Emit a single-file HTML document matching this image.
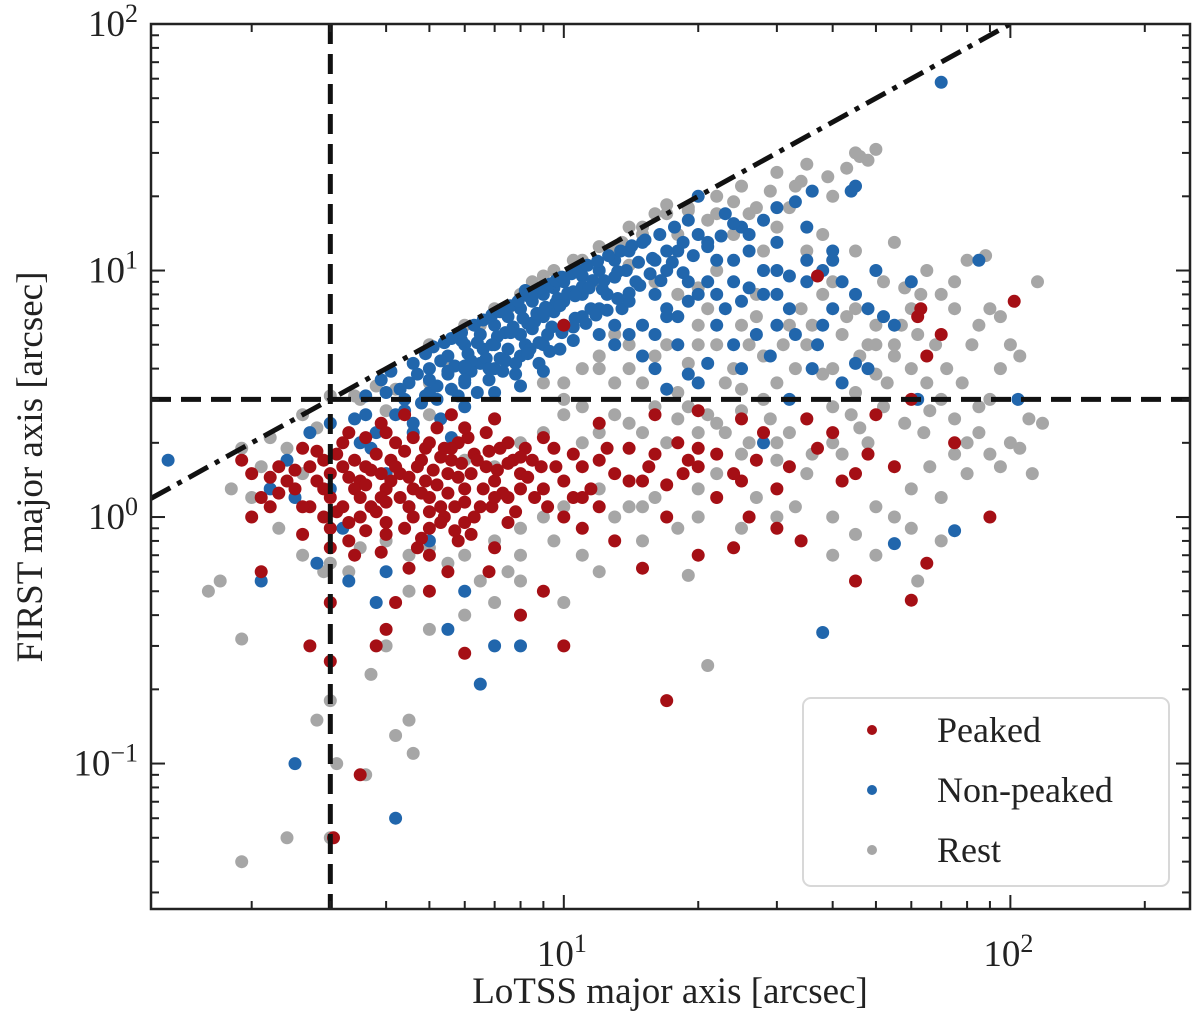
<!DOCTYPE html>
<html><head><meta charset="utf-8"><style>
html,body{margin:0;padding:0;background:#fff;}
svg{display:block;font-family:"Liberation Serif",serif;}
</style></head><body>
<svg id="chart" width="1200" height="1018" viewBox="0 0 1200 1018" xmlns="http://www.w3.org/2000/svg">
<g id="points"></g>
<g id="lines"></g>
<g id="axes"></g>
<g id="legend"></g>
</svg>
<script>
const restPts = [[5,5],[6,6],[7,7],[8,8],[9,9.5],[11,11],[13,12],[15,15],[17,17],[19,18],[22,20],[25,22],[30,25],[35,27],[45,30],[50,31],[48,28],[40,20],[33,22],[30,15],[35,12],[40,9],[45,7],[50,6],[55,5],[60,4],[65,3.5],[70,3],[75,2.5],[80,2],[90,3],[100,2],[110,2.5],[115,9],[100,5],[95,4],[85,6],[75,7],[70,8],[60,7],[55,4.5],[50,3.8],[45,3.2],[40,2.8],[35,2.5],[30,2],[28,3],[25,2.7],[22,2.4],[20,2.2],[18,2.5],[16,2.8],[14,2.4],[12,2.2],[25,6],[20,5],[18,8],[15,6],[22,10],[28,12],[35,5],[42,5.5],[52,9],[58,8.5],[65,10],[75,9],[80,11],[88,11.5],[105,4.5],[112,1.5],[105,1.9],[90,1.8],[80,1.5],[70,1.2],[60,1.3],[50,1.1],[40,1],[35,1.5],[30,1.7],[25,1.8],[20,1.3],[16,1.2],[14,1.1],[12,1.3],[11,2],[9,2.2],[8,2],[7,2.5],[6,2.3],[5,2.6],[4,2.7],[3.5,3],[3,3.1],[2.6,2.6],[2.2,2.1],[1.9,1.9],[2,1.2],[2.3,0.9],[2.6,0.7],[2.9,0.6],[1.6,0.5],[1.7,0.55],[1.9,0.32],[1.9,0.04],[2.4,0.05],[3,0.05],[3.1,0.1],[3.6,0.09],[3,0.18],[2.8,0.15],[4.2,0.13],[4.5,0.15],[4.6,0.11],[3.7,0.23],[4,0.3],[5,0.35],[6,0.4],[7,0.45],[8,0.55],[10,0.45],[12,0.6],[15,0.8],[19,0.58],[21,0.25],[25,0.9],[30,1],[40,0.7],[50,0.7],[55,1],[60,0.9],[70,0.8],[62,0.55],[8,0.9],[9,1],[10,1.1],[7,1.6],[6,1.7],[3.5,0.75],[4.5,0.7],[5.5,0.65],[12,4],[14,5],[16,9],[13,3.5],[10,3],[9,3.5],[20,8.5],[24,14],[26,17],[32,18],[38,14],[27,8],[32,6],[45,12],[55,13],[62,5.5],[48,5],[38,3.8],[42,1.8],[46,2.3],[64,2.2],[66,1.6],[85,2.8],[95,6.5],[118,2.4],[16,17],[18,14],[21,16],[12,9],[14,10.5],
[10,3.5],[11,4],[12,4.5],[13,5.5],[14,4],[15,3.5],[16,4.5],[17,5],[18,3.2],[19,4.2],[20,6],[21,7],[22,5],[23,3.5],[24,4],[25,3.3],[26,5],[27,6.5],[28,4.5],[30,3.5],[31,5],[33,4],[34,7],[36,6],[38,8],[40,4],[43,6.5],[46,4.5],[50,5],[53,3.5],[57,6],[63,8],[68,5],[72,4],[78,3.5],[82,5],[90,7],[10,2.6],[11,2.8],[13,2.6],[15,2.2],[17,2],[19,2.8],[21,2.6],[23,2.2],[26,2],[29,2.5],[32,2.2],[36,1.8],[40,2],[44,2.6],[48,2],[52,2.8],[58,2.4],[66,2.7],[75,1.8],[85,2.2],[95,1.6],[4,0.8],[5,0.75],[6,0.7],[7,0.8],[8,0.7],[3,0.65],[3.3,0.6],[4.5,0.5],[6.5,0.55],[7.5,0.6],[9.5,0.8],[11,0.7],[13,1],[15,1.1],[18,0.9],[20,1],[22,1.5],[27,1.2],[33,1.1],[45,0.85],[3.4,3.1],[4.2,3.3],[5,3.5],[3.8,3.4],[2.8,2.3],[2.4,1.9],[2.1,1.6],[1.8,1.3],[2.6,1.5],[5.5,4.2],[6.5,6],[7.5,7],[8.5,9],[9.5,10],[10.5,11],[12,12.5],[13.5,13],[15,14],[14,15],[17,18.5],[19,17.5],[22,17],[24,19],[27,18],[29,21],[34,23],[39,24],[43,26],[46,29]];
const nonPeakedPts = [[4,3.2],[4.5,3.5],[5,4],[5.5,4.5],[6,5],[6.5,5.5],[7,6],[7.5,6.5],[8,7],[8.5,7.5],[9,8],[9.5,8.5],[10,9],[11,9.5],[12,10],[13,11],[14,12],[15,13],[5,3.2],[6,3.5],[7,4],[8,4.5],[9,5],[10,6],[11,6.5],[12,7],[6,4],[7,5],[8,5.5],[9,6.5],[10,7.5],[11,8],[5.5,3.8],[6.5,4.2],[7.5,4.8],[8.5,5.8],[9.5,6.8],[4.2,2.6],[4.8,2.9],[5.2,3.4],[5.8,3.1],[6.2,3.9],[6.8,3.6],[7.2,4.4],[7.8,3.8],[8.2,5],[8.8,4.2],[9.2,5.5],[9.8,4.8],[10.5,5.2],[11.5,7],[12.5,8],[13.5,7],[14.5,9],[15,6],[16,8],[17,10],[18,12],[20,14],[22,11],[24,9],[26,12],[28,8],[30,10],[32,7],[35,9],[38,6],[40,11],[45,22],[44,21],[70,58],[1.3,1.7],[2.5,0.1],[4.2,0.06],[38,0.34],[20,20],[25,15],[30,13],[23,17],[35,15],[40,12],[50,10],[60,9],[85,11],[48,4],[55,6],[62,3],[104,3],[75,0.88],[55,0.78],[28,2],[32,3],[45,4.2],[37,5],[25,4],[20,3.5],[18,5],[16,4],[22,6],[27,5.5],[30,6],[40,7],[3.5,2],[4,1.5],[3,1.3],[2.5,1.2],[2.2,1.3],[3.2,0.9],[4.5,1.1],[5,0.8],[6,0.5],[7,0.3],[4,0.6],[8,0.3],[5.5,0.35],[3.3,0.55],[2.1,0.55],[3.8,0.45],[6.5,0.21],[2.8,0.65],[3.6,2.6],[4.4,3],[5.3,2.5],[6,2.8],[7,3.2],[8,3.4],[9,3.9],[6.6,4.8],[7.4,5.6],[8.6,6.2],[9.6,7.4],[10.5,8.2],[5.9,5.2],[7.2,6.8],[8.2,8.3],[12,5.5],[13,6],[14,7.5],[16,11],[19,9],[21,13],[24,11],[17,6.5],[3.8,2.2],[4.6,2.2],[5.6,2.1],
[3.6,3.1],[3.9,3.6],[4.1,3.9],[4.3,3.3],[4.6,4.2],[4.7,3.8],[4.9,4.6],[5.1,4.9],[5.3,4.3],[5.4,5.1],[5.6,5.3],[5.7,4.1],[5.9,5.6],[6.1,4.6],[6.3,6],[6.4,5.1],[6.6,6.3],[6.7,4.4],[6.9,6.6],[7.1,5.4],[7.3,7],[7.4,4.3],[7.6,7.2],[7.7,5.9],[7.9,7.5],[8.1,6.4],[8.3,7.9],[8.4,4.8],[8.6,8.1],[8.7,6.7],[8.9,8.5],[9.1,7.1],[9.3,8.8],[9.4,5.9],[9.6,9.1],[9.7,7.7],[9.9,9.4],[10.2,8.1],[10.4,9.7],[10.6,6.4],[10.8,10],[11,8.6],[11.3,10.5],[11.6,9.1],[11.9,10.9],[12.2,8.4],[12.6,11.5],[13,9.4],[13.4,12],[13.8,10],[14.2,12.6],[14.7,10.8],[15.2,13.3],[15.8,11.2],[16.4,14],[17,12],[17.7,15],[18.5,13],[19,16],[4.4,2.7],[4.9,3.1],[5.2,3.0],[5.6,3.3],[6.0,3.6],[6.4,3.2],[6.8,4.0],[7.3,3.9],[7.8,4.2],[8.3,4.6],[8.8,5.1],[9.3,4.7],[9.9,5.6],[10.5,5.9],[11.2,6.1],[11.8,6.6],[12.5,6.9],[13.2,7.7],[14,8.1],[14.8,8.7],[15.6,9.7],[16.5,9.1],[17.5,10.8],[18.5,9.8],[19.5,11.5],[21,12.5],[22.5,13.8],[24,15.5],[26,14],[28,16],[30,18],[33,19],[36,21],[6.2,4.3],[6.9,5.0],[7.6,5.6],[8.3,6.1],[9.0,6.8],[9.8,7.2],[10.6,7.9],[11.4,8.5],[12.3,9.1],[13.2,9.9],[5.0,3.6],[5.5,3.9],[6.0,4.1],[13,5],[14,5.5],[15,4.5],[16,5.5],[17,7],[18,6.5],[19,7.5],[20,8],[21,9],[22,8],[23,7],[25,7.5],[26,8.5],[28,10],[30,8],[32,9.5],[35,11],[38,10],[42,9],[45,8],[48,7],[52,6.5],[33,5.5],[29,4.5],[24,5],[21,4.2],[19,3.8],[17,3.3],[36,4],[42,3.5],[4.6,2.4],[3.4,2.5],[3.0,2.4],[2.7,2.2],[3.7,1.9],[2.4,1.7]];
const peakedPts = [[3,1.2],[3.5,1.4],[4,1.3],[4.5,1.1],[5,1.2],[3.2,1.6],[3.8,1.8],[4.2,2],[4.8,1.7],[5.5,1.5],[6,1.3],[6.5,1.1],[7,1.4],[7.5,1.2],[8,1.5],[3,0.9],[3.5,1],[4,0.85],[5,0.9],[6,0.95],[2.8,1.4],[2.5,1.3],[2.3,1.6],[2.6,1.9],[3.3,2.2],[3.9,2.4],[4.4,2.6],[5.2,2.3],[5.8,2],[6.3,1.8],[7.2,1.9],[8.5,1.7],[9,1.3],[10,1.4],[11,1.6],[12,1.7],[13,1.5],[14,1.9],[16,1.8],[18,2],[20,1.6],[22,1.2],[25,1.4],[28,2.2],[30,1.3],[35,2.5],[40,2.2],[45,1.5],[50,2.6],[60,3],[62,6.5],[65,4.5],[70,5.5],[75,2],[90,1],[102,7.5],[37,9.5],[63,7],[10,6],[17,0.18],[60,0.46],[65,0.65],[45,0.55],[30,0.9],[20,0.7],[15,0.62],[9,0.5],[10,0.3],[8,0.4],[6,0.28],[5,0.5],[4,0.35],[3.5,0.09],[3.05,0.05],[3,0.26],[2.7,0.3],[2.1,0.6],[2.2,1.1],[2,1.0],[1.9,1.7],[3,0.45],[3.8,0.3],[4.2,0.45],[7,0.75],[6.8,0.6],[11,0.9],[12,1.1],[13,0.8],[17,1],[24,0.75],[26,1],[34,0.8],[3.4,1.3],[3.7,1.1],[4.3,1.5],[4.6,1.3],[5.3,1.1],[3.1,1.05],[3.6,1.6],[4.1,1.7],[2.9,1.7],[5.6,1.7],[6.7,1.6],[7.7,1.7],[4.9,1.4],[3.3,0.8],[4.7,0.75],[5.8,0.8],[2.7,1.1],[3.9,1.2],[9.5,1.9],[10.5,1.2],[15,1.4],[19,1.7],[7.5,0.95],
[2.4,1.4],[2.6,1.1],[2.7,1.6],[2.9,1.3],[3.0,1.5],[3.1,1.8],[3.2,1.1],[3.3,1.45],[3.4,1.7],[3.5,1.2],[3.6,1.35],[3.7,1.55],[3.8,1.05],[3.9,1.5],[4.0,1.15],[4.1,1.4],[4.2,1.6],[4.3,1.2],[4.4,1.85],[4.5,1.45],[4.6,1.0],[4.7,1.6],[4.8,1.25],[4.9,1.9],[5.0,1.05],[5.1,1.55],[5.2,1.35],[5.3,1.75],[5.4,1.0],[5.5,1.25],[5.6,1.9],[5.7,1.1],[5.8,1.45],[5.9,1.65],[6.0,1.15],[6.2,1.5],[6.3,1.0],[6.4,1.7],[6.6,1.3],[6.8,1.85],[6.9,1.1],[7.1,1.55],[7.3,1.25],[7.5,1.65],[7.8,1.05],[8.0,1.3],[8.3,1.45],[8.6,1.2],[8.9,1.6],[9.2,1.1],[3.3,0.95],[3.6,0.88],[4.0,0.95],[4.4,0.9],[4.8,0.82],[5.3,0.95],[5.7,0.88],[6.2,0.85],[2.9,1.0],[2.6,0.85],[3.0,0.75],[3.4,0.7],[3.9,0.72],[4.5,0.62],[5.0,0.7],[5.5,0.6],[3.2,2.0],[3.6,2.1],[4.0,2.2],[4.6,2.1],[5.0,2.0],[5.4,1.9],[6.1,2.1],[6.7,2.2],[7.5,2.0],[8.2,1.9],[9.6,1.6],[10.5,1.8],[11.5,1.3],[12.5,1.9],[14,1.4],[15.5,1.6],[17,1.35],[18.5,1.5],[20,1.9],[22,1.8],[24,1.5],[27,1.7],[32,1.6],[37,1.9],[42,1.4],[48,1.8],[55,1.6],[10,1],[11,1.2],[2.3,1.25],[2.5,1.55],[2.8,1.85],[2.2,1.45],[2.1,1.2],[2.0,1.5],[7,1.2],[8,1.75],[6,2.3],[7,2.5],[5.6,2.6],[9,2.1],[12,2.4],[16,2.6],[20,2.7],[25,2.5]];
const xTickVals = [10, 100];
const xTickLabels = ["1", "2"];
const yTickVals = [0.1, 1, 10, 100];
const yTickLabels = ["\u22121", "0", "1", "2"];
const xLimit = 3, yLimit = 3;

const NS = "http://www.w3.org/2000/svg";
const L = 151, R = 1190, T = 24, B = 909;
const xLogMin = Math.log10(1.19), xLogMax = Math.log10(252.5);
const yLogMin = -1.59, yLogMax = 2;
function xs(v){ return L + (Math.log10(v) - xLogMin) / (xLogMax - xLogMin) * (R - L); }
function ys(v){ return B - (Math.log10(v) - yLogMin) / (yLogMax - yLogMin) * (B - T); }
function mk(tag, attrs, parent){ const e = document.createElementNS(NS, tag); for (const k in attrs) e.setAttribute(k, attrs[k]); parent.appendChild(e); return e; }

const gp = document.getElementById('points');
const defs = mk('clipPath', {id:'clip'}, document.getElementById('chart'));
mk('rect', {x:L, y:T, width:R-L, height:B-T}, defs);
gp.setAttribute('clip-path', 'url(#clip)');
function drawSeries(pts, color, name){
  const g = mk('g', {fill: color}, gp);
  
  
  pts.forEach(p => {
    const c = mk('circle', {cx: xs(p[0]).toFixed(1), cy: ys(p[1]).toFixed(1), r: 6.5}, g);
    
    
  });
}
drawSeries(restPts, '#a6a6a6', 'rest');
drawSeries(nonPeakedPts, '#2166ac', 'non-peaked');
drawSeries(peakedPts, '#a50f15', 'peaked');

const gl = document.getElementById('lines');
gl.setAttribute('clip-path', 'url(#clip)');
const vl = mk('line', {x1: xs(xLimit), x2: xs(xLimit), y1: T, y2: B, stroke:'#111', 'stroke-width':5, 'stroke-dasharray':'20 10'}, gl);


const hl = mk('line', {x1: L, x2: R, y1: ys(yLimit), y2: ys(yLimit), stroke:'#111', 'stroke-width':5, 'stroke-dasharray':'20 10'}, gl);


const d1 = mk('line', {x1: xs(1.19), y1: ys(1.19), x2: xs(100), y2: ys(100), stroke:'#111', 'stroke-width':5, 'stroke-dasharray':'22 8 5 8'}, gl);



const ga = document.getElementById('axes');
const fr = mk('rect', {x:L, y:T, width:R-L, height:B-T, fill:'none', stroke:'#222', 'stroke-width':2.5}, ga);


for (let d = 0; d <= 2; d++) for (let m = 1; m <= 9; m++) {
  const v = m * Math.pow(10, d); if (v < 1.19 || v > 252.5) continue;
  const x = xs(v), len = m === 1 ? 14 : 8;
  mk('line', {x1:x, x2:x, y1:B, y2:B-len, stroke:'#222','stroke-width':2}, ga);
  mk('line', {x1:x, x2:x, y1:T, y2:T+len, stroke:'#222','stroke-width':2}, ga);
}
for (let d = -2; d <= 1; d++) for (let m = 1; m <= 9; m++) {
  const v = m * Math.pow(10, d); if (Math.log10(v) < yLogMin || Math.log10(v) > yLogMax) continue;
  const y = ys(v), len = m === 1 ? 14 : 8;
  mk('line', {x1:L, x2:L+len, y1:y, y2:y, stroke:'#222','stroke-width':2}, ga);
  mk('line', {x1:R, x2:R-len, y1:y, y2:y, stroke:'#222','stroke-width':2}, ga);
}
xTickVals.forEach((v, i) => {
  const t = mk('text', {x: xs(v) - 2, y: 966, 'font-size': 37, 'text-anchor':'middle', fill:'#222'}, ga);
  
  
  t.textContent = '10';
  const s = mk('tspan', {dy: -14, 'font-size': 26}, t); s.textContent = xTickLabels[i];
});
yTickVals.forEach((v, i) => {
  const t = mk('text', {x: 138, y: ys(v) + 12, 'font-size': 37, 'text-anchor':'end', fill:'#222'}, ga);
  
  
  t.textContent = '10';
  const s = mk('tspan', {dy: -14, 'font-size': 26}, t); s.textContent = yTickLabels[i];
});
const xt = mk('text', {x: 670, y: 1003, 'font-size': 37, 'text-anchor':'middle', fill:'#222'}, ga);


xt.textContent = 'LoTSS major axis [arcsec]';
const yt = mk('text', {x: 0, y: 0, 'font-size': 37, 'text-anchor':'middle', fill:'#222', transform:'translate(42,467) rotate(-90)'}, ga);


yt.textContent = 'FIRST major axis [arcsec]';

const lg = document.getElementById('legend');
mk('rect', {x:803, y:698, width:366, height:188, rx:8, fill:'#fff', 'fill-opacity':0.85, stroke:'#d8d8d8', 'stroke-width':2}, lg);
const legItems = [['Peaked','#a50f15'],['Non-peaked','#2166ac'],['Rest','#a6a6a6']];
legItems.forEach((it, i) => {
  const g = mk('g', {}, lg);
  
  
  const y = 730 + i * 60;
  mk('circle', {cx:872, cy:y, r:5, fill:it[1]}, g);
  const t = mk('text', {x:937, y:y+12, 'font-size':36, fill:'#222'}, g);
  t.textContent = it[0];
});
</script>
</body></html>
